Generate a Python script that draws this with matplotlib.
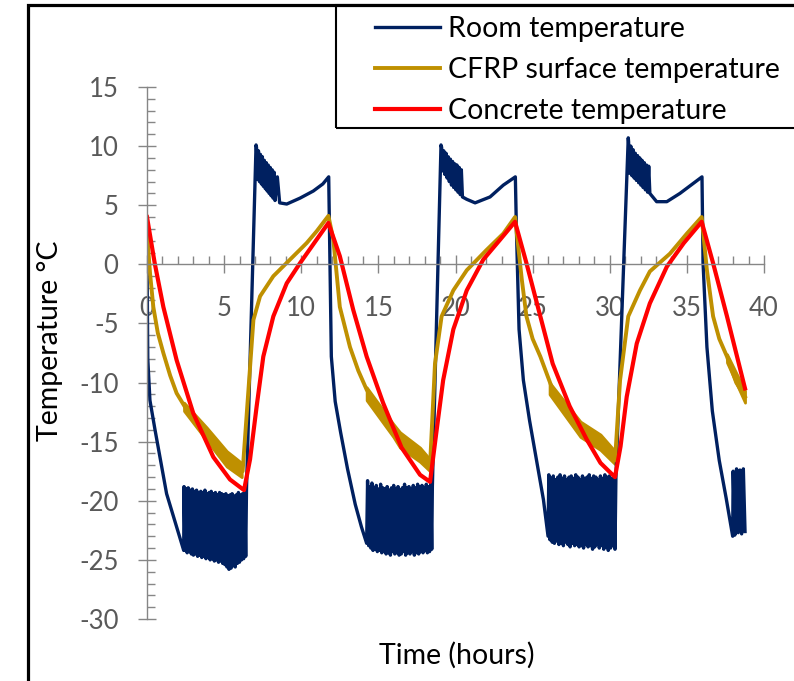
import matplotlib.pyplot as plt
import numpy as np
from matplotlib.patches import Rectangle
from matplotlib.ticker import MultipleLocator

plt.rcParams['font.family'] = ['Lato', 'DejaVu Sans']
plt.rcParams['axes.unicode_minus'] = False

labels = ['Room temperature', 'CFRP surface temperature', 'Concrete temperature']
colors = ['#002060', '#BF9000', '#FF0000']

# ---- Room temperature: smooth parts ----
room_seg1_t = [0.0, 0.05, 0.19, 0.52, 0.84, 1.27, 1.71, 2.25, 2.38]
room_seg1_v = [1.0, -8.0, -11.5, -14.0, -16.3, -19.4, -21.3, -23.6, -24.2]
room_seg2_t = [6.45, 7.07]
room_seg2_v = [-19.0, 10.1]
room_seg3_t = [8.45, 8.6, 9.06, 9.92, 10.78, 11.4, 11.78, 11.84, 11.95, 12.2, 12.55, 13.0, 13.5, 13.9, 14.24]
room_seg3_v = [7.4, 5.2, 5.1, 5.6, 6.2, 6.8, 7.4, 2.1, -7.8, -11.6, -14.2, -17.3, -20.3, -22.2, -23.6]
room_seg4_t = [18.5, 19.06]
room_seg4_v = [-18.8, 10.1]
room_seg5_t = [20.73, 21.27, 22.24, 23.1, 23.88, 23.95, 24.12, 24.4, 24.8, 25.2, 25.7, 26.0]
room_seg5_v = [5.5, 5.2, 5.7, 6.7, 7.4, 2.9, -5.5, -9.8, -13.2, -16.2, -19.9, -23.0]
room_seg6_t = [30.4, 31.2]
room_seg6_v = [-18.0, 10.7]
room_seg7_t = [33.04, 33.7, 34.55, 35.98, 36.05, 36.3, 36.65, 37.1, 37.55, 37.9, 37.97]
room_seg7_v = [5.3, 5.3, 6.0, 7.4, 0.1, -7.0, -12.4, -16.6, -19.8, -22.5, -23.0]

# ---- Room temperature: oscillating parts (peaks / troughs) ----
band_span = [(2.4, 6.4), (14.3, 18.46), (26.05, 30.34), (38.0, 38.77)]
band_hi = [
    [-18.8, -19.0, -18.9, -19.1, -19.0, -19.2, -19.1, -19.3, -19.2, -19.3, -19.1, -19.4, -19.3, -19.2, -19.4,
     -19.3, -19.5, -19.3, -19.4, -19.5, -19.4, -19.6, -19.5, -19.4, -19.6, -19.5, -19.3, -19.5, -19.4, -19.2],
    [-18.3, -18.8, -18.5, -18.9, -18.7, -19.0, -18.6, -18.9, -19.0, -18.8, -19.1, -18.9, -18.7, -19.0, -18.8,
     -19.1, -18.9, -18.6, -18.9, -18.8, -19.0, -18.7, -18.9, -18.6, -18.8, -18.7, -18.9, -18.6, -18.8, -18.5],
    [-17.8, -18.1, -17.9, -18.2, -18.0, -17.8, -18.1, -17.9, -18.2, -18.0, -17.9, -18.1, -17.8, -18.0, -18.2,
     -17.9, -18.1, -18.0, -17.8, -18.1, -17.9, -18.0, -18.2, -17.9, -18.1, -17.8, -18.0, -17.9, -18.1, -18.0],
    [-17.5, -17.3, -17.4, -17.3],
]
band_lo = [
    [-24.2, -24.4, -24.3, -24.5, -24.6, -24.5, -24.7, -24.6, -24.8, -24.7, -24.9, -24.8, -25.0, -24.9, -25.1,
     -25.0, -25.2, -25.1, -25.3, -25.4, -25.6, -25.8, -25.7, -25.5, -25.6, -25.3, -25.2, -25.0, -24.9, -24.7],
    [-23.8, -24.0, -24.2, -24.1, -24.3, -24.2, -24.4, -24.3, -24.5, -24.4, -24.6, -24.3, -24.5, -24.4, -24.6,
     -24.5, -24.3, -24.6, -24.4, -24.5, -24.3, -24.6, -24.4, -24.5, -24.3, -24.4, -24.2, -24.4, -24.3, -24.1],
    [-23.3, -23.5, -23.6, -23.4, -23.7, -23.6, -23.8, -23.5, -23.7, -23.9, -23.6, -23.8, -23.7, -23.9, -23.8,
     -24.0, -23.7, -23.9, -23.8, -24.1, -23.9, -23.7, -24.0, -23.8, -24.1, -23.9, -24.2, -24.0, -23.8, -24.1],
    [-22.9, -22.7, -22.8, -22.6],
]
thaw_span = [(7.1, 8.3), (19.1, 20.45), (31.22, 32.6)]
thaw_hi = [
    [9.9, 9.6, 9.3, 9.1, 8.8, 8.6, 8.4, 8.2, 8.0, 7.8],
    [9.9, 9.6, 9.4, 9.1, 8.9, 8.7, 8.5, 8.4, 8.2, 8.0],
    [10.4, 10.0, 9.7, 9.4, 9.2, 9.0, 8.8, 8.6, 8.4, 8.3],
]
thaw_lo = [
    [7.2, 7.0, 6.8, 6.6, 6.4, 6.2, 6.0, 5.8, 5.6, 5.4],
    [7.9, 7.6, 7.3, 7.0, 6.7, 6.5, 6.3, 6.1, 5.9, 5.7],
    [7.7, 7.5, 7.3, 7.1, 6.9, 6.7, 6.5, 6.3, 6.1, 6.0],
]

# ---- CFRP surface temperature ----
cfrp_t = [0, 0.2, 0.41, 0.7, 1.06, 1.5, 1.92, 2.57, 3.2, 3.87, 4.5, 5.17, 5.7, 6.2, 6.9, 7.33, 8.19, 9.27,
          10.35, 11.0, 11.76, 12.08, 12.5, 13.16, 13.7, 14.24, 15.3, 16.6, 17.7, 18.35, 18.67, 19.1, 19.86,
          20.73, 22.0, 23.1, 23.86, 24.3, 24.6, 25.0, 25.5, 26.3, 27.4, 28.9, 30.34, 30.67, 31.2, 31.96,
          32.6, 33.9, 35.0, 35.96, 36.3, 36.7, 37.1, 37.6, 38.2, 38.77]
cfrp_v = [2.7, -0.8, -3.6, -5.8, -7.5, -9.4, -10.9, -12.3, -13.3, -14.3, -15.3, -16.2, -16.9, -17.5, -4.7,
          -2.7, -1.0, 0.4, 1.8, 2.8, 4.1, 2.1, -3.6, -7.0, -9.0, -10.6, -12.9, -14.6, -16.0, -17.0, -8.4,
          -4.4, -2.2, -0.5, 1.2, 2.6, 4.0, -1.3, -4.4, -6.3, -7.8, -10.6, -12.6, -14.8, -16.6, -9.8, -4.4,
          -2.2, -0.6, 0.9, 2.6, 4.0, -0.5, -4.4, -6.3, -7.8, -10.0, -11.2]
# noisy (thick) stretches of the CFRP trace
cfrp_band_t = [[2.4, 3.87, 5.17, 6.14], [14.24, 15.97, 16.4, 17.7, 18.35],
               [26.1, 28.1, 29.4, 30.34], [37.6, 38.77]]
cfrp_band_hi = [[-11.7, -13.8, -15.8, -16.8], [-10.4, -13.5, -14.2, -15.5, -16.5],
                [-10.0, -13.3, -14.4, -15.8], [-7.6, -10.7]]
cfrp_band_lo = [[-12.4, -14.9, -17.1, -18.0], [-11.5, -14.6, -15.5, -16.7, -17.5],
                [-11.0, -14.6, -15.7, -16.9], [-8.3, -11.7]]

# ---- Concrete temperature ----
conc_t = [0, 0.5, 1.06, 1.92, 3.0, 4.3, 5.38, 6.29, 6.68, 7.11, 7.54, 8.19, 9.06, 9.92, 11.0, 11.76, 12.5,
          13.37, 14.24, 15.3, 16.5, 17.7, 18.35, 18.78, 19.2, 19.86, 20.73, 21.8, 22.9, 23.86, 24.6, 25.5,
          26.3, 27.4, 28.5, 29.4, 30.34, 30.7, 31.1, 31.75, 32.6, 33.7, 34.8, 35.96, 36.7, 37.6, 38.77]
conc_v = [4.0, 0.1, -3.6, -8.1, -12.6, -16.3, -18.2, -19.1, -16.5, -12.0, -7.8, -4.4, -1.6, 0.1, 2.1, 3.5,
          0.7, -3.85, -7.8, -11.7, -15.5, -17.8, -18.4, -14.0, -9.8, -5.5, -2.2, 0.4, 2.1, 3.6, 0.1, -4.4,
          -8.4, -12.0, -14.8, -16.8, -18.0, -15.4, -11.2, -6.7, -3.3, -0.2, 1.8, 3.6, 0.1, -4.4, -10.5]


def zigzag(span, hi, lo):
    v = np.ravel(np.column_stack([hi, lo]))
    t = np.linspace(span[0], span[1], len(v))
    return t, v


parts = [(room_seg1_t, room_seg1_v), zigzag(band_span[0], band_hi[0], band_lo[0]),
         (room_seg2_t, room_seg2_v), zigzag(thaw_span[0], thaw_hi[0], thaw_lo[0]),
         (room_seg3_t, room_seg3_v), zigzag(band_span[1], band_hi[1], band_lo[1]),
         (room_seg4_t, room_seg4_v), zigzag(thaw_span[1], thaw_hi[1], thaw_lo[1]),
         (room_seg5_t, room_seg5_v), zigzag(band_span[2], band_hi[2], band_lo[2]),
         (room_seg6_t, room_seg6_v), zigzag(thaw_span[2], thaw_hi[2], thaw_lo[2]),
         (room_seg7_t, room_seg7_v), zigzag(band_span[3], band_hi[3], band_lo[3])]
room_t = np.concatenate([np.asarray(p[0], float) for p in parts])
room_v = np.concatenate([np.asarray(p[1], float) for p in parts])

W, H = 794, 681
fig = plt.figure(figsize=(W / 100, H / 100), dpi=100)
ax = fig.add_axes([147 / W, 1 - 619 / H, 617 / W, 532 / H])

l1, = ax.plot(room_t, room_v, color=colors[0], lw=2.4, label=labels[0])
l2, = ax.plot(cfrp_t, cfrp_v, color=colors[1], lw=2.8, label=labels[1])
for bt, bh, bl in zip(cfrp_band_t, cfrp_band_hi, cfrp_band_lo):
    ax.fill_between(bt, bh, bl, color=colors[1], lw=2.0)
l3, = ax.plot(conc_t, conc_v, color=colors[2], lw=3.0, label=labels[2])

ax.set_xlim(0, 40)
ax.set_ylim(-30, 15)
ax.spines['bottom'].set_position(('data', 0))
ax.spines['top'].set_visible(False)
ax.spines['right'].set_visible(False)
for s in ['left', 'bottom']:
    ax.spines[s].set_color('#868686')
    ax.spines[s].set_linewidth(1.0)

ax.xaxis.set_major_locator(MultipleLocator(5))
ax.xaxis.set_minor_locator(MultipleLocator(1))
ax.yaxis.set_major_locator(MultipleLocator(5))
ax.yaxis.set_minor_locator(MultipleLocator(1))
ax.tick_params(which='major', direction='inout', length=13, width=1, color='#868686',
               labelsize=18.5, labelcolor='#595959')
ax.tick_params(axis='x', which='major', pad=16)
ax.tick_params(axis='y', which='major', pad=14)
ax.tick_params(which='minor', direction='in', length=5.5, width=1, color='#868686')

fig.text(457 / W, 1 - 655 / H, 'Time (hours)', ha='center', va='center', fontsize=20.5, color='black')
fig.text(50 / W, 1 - 341 / H, 'Temperature \u00b0C', ha='center', va='center', rotation=90,
         fontsize=20.5, color='black')

# outer frame and legend box
fig.add_artist(Rectangle((28 / W, -0.2), 1.2, 1.2 - 5 / H, transform=fig.transFigure, fill=False,
                         ec='black', lw=2.3, clip_on=False))
fig.add_artist(Rectangle((336 / W, 1 - 128 / H), 1.0, 123 / H, transform=fig.transFigure, fill=False,
                         ec='black', lw=1.5, clip_on=False))
fig.legend(handles=[l1, l2, l3], loc='upper left', bbox_to_anchor=(375 / W, 1 - 16 / H),
           frameon=False, borderpad=0, borderaxespad=0, handlelength=2.3, handletextpad=0.25,
           labelspacing=0.53, fontsize=20.5)

fig.savefig('out.png', dpi=100)
